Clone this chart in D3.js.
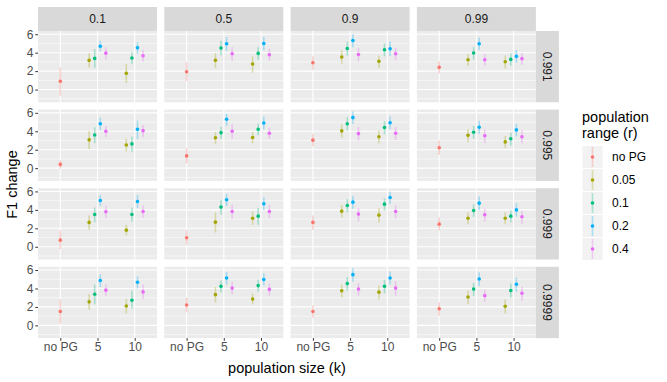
<!DOCTYPE html>
<html>
<head>
<meta charset="utf-8">
<script src="https://cdn.jsdelivr.net/npm/d3@7"></script>
<style>
  body { margin: 0; background: #fff; }
  svg { display: block; font-family: "Liberation Sans", Arial, sans-serif; }
</style>
</head>
<body>
<div id="chart"></div>
<script>
// facet labels, categories and ticks
const colLabels = ["0.1", "0.5", "0.9", "0.99"];
const rowLabels = ["0.991", "0.995", "0.999", "0.9999"];
const sizeCats = ["no PG", "5", "10"];
const rangeLabels = ["no PG", "0.05", "0.1", "0.2", "0.4"];
const rangeColors = ["#F8766D", "#A3A500", "#00BF7D", "#00B0F6", "#E76BF3"];
const yTicks = [0, 2, 4, 6];

// each panel: [noPG, k5: 0.05 0.1 0.2 0.4, k10: 0.05 0.1 0.2 0.4]
const f1Mean = [
  [[0.9, 3.17, 3.38, 4.7, 3.95, 1.76, 3.42, 4.53, 3.67],
   [1.94, 3.17, 4.5, 4.96, 3.88, 2.77, 3.92, 5.0, 3.78],
   [2.91, 3.53, 4.46, 5.32, 3.81, 3.06, 4.32, 4.42, 3.88],
   [2.41, 3.24, 3.96, 4.96, 3.24, 3.02, 3.27, 3.6, 3.35]],
  [[0.41, 3.07, 3.59, 4.81, 4.0, 2.52, 2.63, 4.22, 4.07],
   [1.33, 3.3, 3.85, 5.3, 4.0, 3.33, 4.22, 4.89, 3.78],
   [3.04, 4.04, 4.81, 5.48, 3.74, 3.41, 4.41, 4.93, 3.78],
   [2.22, 3.56, 3.89, 4.44, 3.52, 2.85, 3.19, 4.15, 3.41]],
  [[0.72, 2.64, 3.5, 5.02, 3.79, 1.8, 3.5, 4.91, 3.83],
   [0.97, 2.67, 4.3, 5.09, 3.83, 3.1, 3.32, 4.66, 3.83],
   [2.64, 3.86, 4.48, 4.84, 3.54, 3.43, 4.62, 5.34, 3.83],
   [2.45, 3.1, 3.94, 4.73, 3.47, 3.1, 3.32, 4.0, 3.25]],
  [[1.5, 2.55, 3.37, 4.87, 3.82, 2.1, 2.73, 4.68, 3.63],
   [2.21, 3.33, 4.23, 5.13, 4.04, 2.85, 4.31, 4.98, 3.9],
   [1.5, 3.75, 4.53, 5.5, 3.93, 3.6, 4.23, 5.13, 4.04],
   [1.8, 3.07, 3.93, 5.02, 3.22, 2.06, 3.78, 4.46, 3.48]]
];
const f1Low = [
  [[-0.65, 2.4, 2.35, 4.15, 3.25, 0.72, 2.77, 3.9, 3.05],
   [0.9, 2.35, 3.7, 4.2, 3.13, 1.83, 3.24, 4.28, 3.13],
   [2.16, 2.8, 3.67, 4.6, 3.06, 2.34, 3.6, 3.63, 3.17],
   [1.76, 2.59, 3.24, 4.28, 2.59, 2.27, 2.59, 2.91, 2.7]],
  [[-0.07, 2.07, 2.7, 4.15, 3.37, 1.81, 1.78, 3.15, 3.37],
   [0.52, 2.63, 3.19, 4.6, 3.19, 2.7, 3.56, 4.22, 3.19],
   [2.37, 3.3, 4.11, 4.78, 3.0, 2.7, 3.67, 4.22, 3.07],
   [1.44, 2.81, 3.19, 3.74, 2.74, 2.19, 2.44, 3.44, 2.7]],
  [[-0.25, 1.84, 2.67, 4.44, 3.1, 1.23, 2.74, 4.19, 3.18],
   [0.22, 1.55, 3.47, 4.44, 3.03, 2.38, 2.38, 4.0, 3.1],
   [1.84, 3.18, 3.75, 4.12, 2.74, 2.64, 3.94, 4.66, 3.1],
   [1.77, 2.45, 3.25, 3.97, 2.74, 2.45, 2.64, 3.29, 2.49]],
  [[0.19, 1.69, 2.28, 4.16, 3.18, 1.31, 1.8, 3.97, 2.85],
   [1.42, 2.47, 3.56, 4.42, 3.37, 2.28, 3.67, 4.34, 3.22],
   [0.86, 3.03, 3.78, 4.72, 3.22, 2.81, 3.48, 4.42, 3.22],
   [1.05, 2.32, 3.18, 4.27, 2.55, 1.31, 3.03, 3.67, 2.66]]
];
const f1High = [
  [[2.4, 3.95, 4.4, 5.3, 4.6, 2.8, 4.05, 5.15, 4.3],
   [2.95, 3.95, 5.3, 5.7, 4.6, 3.6, 4.6, 5.7, 4.42],
   [3.6, 4.24, 5.2, 6.0, 4.5, 3.67, 5.0, 5.2, 4.5],
   [3.06, 3.88, 4.6, 5.65, 3.88, 3.7, 3.92, 4.28, 3.96]],
  [[0.85, 4.04, 4.44, 5.48, 4.56, 3.19, 3.44, 5.15, 4.67],
   [2.15, 3.93, 4.48, 5.9, 4.74, 3.93, 4.85, 5.6, 4.37],
   [3.74, 4.74, 5.52, 6.15, 4.48, 4.11, 5.11, 5.6, 4.48],
   [3.0, 4.22, 4.59, 5.15, 4.19, 3.48, 3.85, 4.81, 4.11]],
  [[1.77, 3.39, 4.26, 5.63, 4.44, 2.38, 4.26, 5.63, 4.48],
   [1.77, 3.72, 5.09, 5.74, 4.55, 3.83, 4.19, 5.34, 4.55],
   [3.39, 4.55, 5.16, 5.52, 4.19, 4.19, 5.27, 5.99, 4.48],
   [3.18, 3.75, 4.62, 5.45, 4.12, 3.75, 3.94, 4.73, 3.9]],
  [[2.81, 3.41, 4.42, 5.54, 4.42, 2.85, 3.75, 5.32, 4.42],
   [3.0, 4.16, 4.87, 5.8, 4.72, 3.45, 4.94, 5.62, 4.53],
   [2.17, 4.42, 5.24, 6.2, 4.57, 4.3, 4.94, 5.84, 4.79],
   [2.47, 3.75, 4.61, 5.73, 3.82, 2.81, 4.53, 5.17, 4.19]]
];

const width = 667, height = 382;
const mLeft = 38, mTop = 31, pw = 119, ph = 71.3, gap = 7.3, stripH = 24, stripW = 23;
const tickFont = 12;

const svg = d3.select("#chart").append("svg")
  .attr("width", width).attr("height", height);

const x = d3.scalePoint().domain(sizeCats).range([0, pw]).padding(0.6);
const y = d3.scaleLinear().domain([-1.38, 6.35]).range([ph, 0]);
const dodge = x.step() * 0.6 / 4;

// turn a panel's 9 values into points
function panelPoints(r, c) {
  const out = [{ cat: "no PG", grp: 0, dx: 0 }];
  ["5", "10"].forEach((k) => {
    for (let j = 0; j < 4; j++) out.push({ cat: k, grp: j + 1, dx: (j - 1.5) * dodge });
  });
  return out.map((d, i) => ({
    ...d, mean: f1Mean[r][c][i], lo: f1Low[r][c][i], hi: f1High[r][c][i]
  }));
}

rowLabels.forEach((rl, r) => {
  colLabels.forEach((cl, c) => {
    const px = mLeft + c * (pw + gap), py = mTop + r * (ph + gap);
    const g = svg.append("g").attr("transform", `translate(${px},${py})`);

    g.append("rect").attr("width", pw).attr("height", ph).attr("fill", "#EBEBEB");

    const minor = [-1, 1, 3, 5];
    g.selectAll(".minor").data(minor).enter().append("line")
      .attr("x1", 0).attr("x2", pw)
      .attr("y1", (d) => y(d)).attr("y2", (d) => y(d))
      .attr("stroke", "#fff").attr("stroke-width", 0.55);
    g.selectAll(".major").data(yTicks).enter().append("line")
      .attr("x1", 0).attr("x2", pw)
      .attr("y1", (d) => y(d)).attr("y2", (d) => y(d))
      .attr("stroke", "#fff").attr("stroke-width", 1.1);
    g.selectAll(".vmajor").data(sizeCats).enter().append("line")
      .attr("x1", (d) => x(d)).attr("x2", (d) => x(d))
      .attr("y1", 0).attr("y2", ph)
      .attr("stroke", "#fff").attr("stroke-width", 1.1);

    const pts = panelPoints(r, c);
    g.selectAll(".err").data(pts).enter().append("line")
      .attr("x1", (d) => x(d.cat) + d.dx).attr("x2", (d) => x(d.cat) + d.dx)
      .attr("y1", (d) => y(d.lo)).attr("y2", (d) => y(d.hi))
      .attr("stroke", (d) => rangeColors[d.grp])
      .attr("stroke-opacity", 0.3).attr("stroke-width", 1.6);
    g.selectAll(".pt").data(pts).enter().append("circle")
      .attr("cx", (d) => x(d.cat) + d.dx).attr("cy", (d) => y(d.mean))
      .attr("r", 1.8).attr("fill", (d) => rangeColors[d.grp]);

    // top strip
    if (r === 0) {
      svg.append("rect").attr("x", px).attr("y", mTop - stripH)
        .attr("width", pw).attr("height", stripH).attr("fill", "#D9D9D9");
      svg.append("text").attr("x", px + pw / 2).attr("y", mTop - stripH / 2)
        .attr("text-anchor", "middle").attr("dy", "0.35em")
        .attr("font-size", tickFont).attr("fill", "#1A1A1A").text(cl);
    }
    // right strip
    if (c === colLabels.length - 1) {
      const sx = px + pw;
      svg.append("rect").attr("x", sx).attr("y", py)
        .attr("width", stripW).attr("height", ph).attr("fill", "#D9D9D9");
      svg.append("text")
        .attr("transform", `translate(${sx + stripW / 2},${py + ph / 2}) rotate(90)`)
        .attr("text-anchor", "middle").attr("dy", "0.35em")
        .attr("font-size", tickFont).attr("fill", "#1A1A1A").text(rl);
    }
    // y axis
    if (c === 0) {
      const ya = svg.append("g").attr("transform", `translate(${px},${py})`)
        .call(d3.axisLeft(y).tickValues(yTicks).tickSize(2.7).tickPadding(2));
      ya.select(".domain").remove();
      ya.selectAll("line").attr("stroke", "#333333");
      ya.selectAll("text").attr("font-size", tickFont).attr("fill", "#4D4D4D")
        .attr("font-family", "Liberation Sans, Arial, sans-serif");
    }
    // x axis
    if (r === rowLabels.length - 1) {
      const xa = svg.append("g").attr("transform", `translate(${px},${py + ph})`)
        .call(d3.axisBottom(x).tickSize(2.7).tickPadding(2));
      xa.select(".domain").remove();
      xa.selectAll("line").attr("stroke", "#333333");
      xa.selectAll("text").attr("font-size", tickFont).attr("fill", "#4D4D4D")
        .attr("font-family", "Liberation Sans, Arial, sans-serif");
    }
  });
});

const plotBottom = mTop + 4 * ph + 3 * gap;
const plotRight = mLeft + 4 * pw + 3 * gap;

svg.append("text").attr("x", (mLeft + plotRight) / 2).attr("y", 373)
  .attr("text-anchor", "middle").attr("font-size", 14.5).attr("fill", "#000")
  .text("population size (k)");
svg.append("text")
  .attr("transform", `translate(12,${(mTop + plotBottom) / 2}) rotate(-90)`)
  .attr("text-anchor", "middle").attr("dy", "0.35em")
  .attr("font-size", 14.5).attr("fill", "#000").text("F1 change");

// legend
const lg = svg.append("g").attr("transform", "translate(582,0)");
lg.append("text").attr("x", 0).attr("y", 122).attr("font-size", 14.5).text("population");
lg.append("text").attr("x", 0).attr("y", 138).attr("font-size", 14.5).text("range (r)");
const keyH = 23, keyW = 21, keyTop = 145.5;
rangeLabels.forEach((lab, i) => {
  const ky = keyTop + i * keyH;
  lg.append("rect").attr("x", 0).attr("y", ky).attr("width", keyW).attr("height", keyH)
    .attr("fill", "#F2F2F2").attr("stroke", "#fff").attr("stroke-width", 1);
  lg.append("line").attr("x1", keyW / 2).attr("x2", keyW / 2)
    .attr("y1", ky + 1.5).attr("y2", ky + keyH - 1.5)
    .attr("stroke", rangeColors[i]).attr("stroke-opacity", 0.3).attr("stroke-width", 1.6);
  lg.append("circle").attr("cx", keyW / 2).attr("cy", ky + keyH / 2).attr("r", 1.8)
    .attr("fill", rangeColors[i]);
  lg.append("text").attr("x", 30).attr("y", ky + keyH / 2).attr("dy", "0.35em")
    .attr("font-size", tickFont).attr("fill", "#000").text(lab);
});
</script>
</body>
</html>
